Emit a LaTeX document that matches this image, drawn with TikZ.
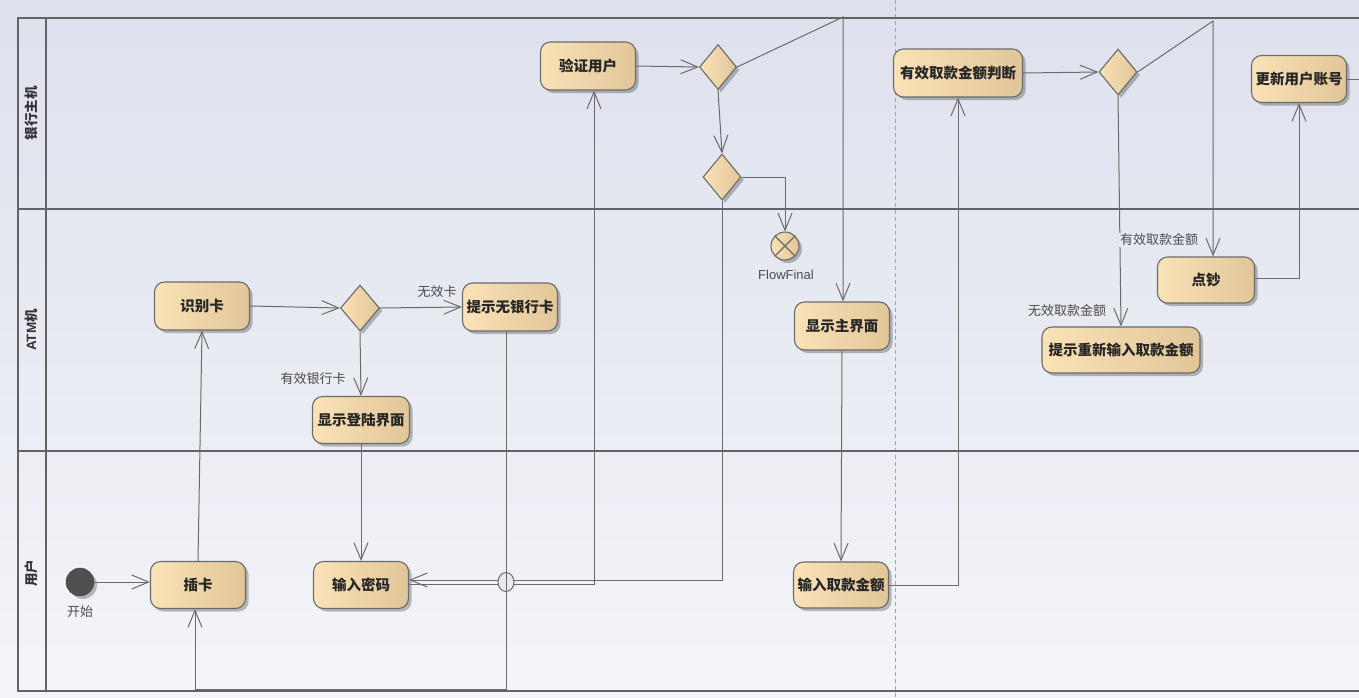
\documentclass[tikz,border=0pt]{standalone}
\usepackage{fontspec}
\setmainfont{Noto Sans CJK SC}
\newfontfamily\latf{Liberation Sans}
\usetikzlibrary{arrows.meta,shadows,shapes.geometric,calc}
\definecolor{bgtop}{HTML}{DEE1ED}
\definecolor{bgbot}{HTML}{F4F5F9}
\definecolor{bgmid}{HTML}{E8EAF3}
\definecolor{boxL}{HTML}{FAE2B8}
\definecolor{boxR}{HTML}{E1C698}
\definecolor{edgec}{HTML}{6A6A6A}
\definecolor{lanec}{HTML}{636363}
\definecolor{dashc}{HTML}{9C9CDC}
\definecolor{lblc}{HTML}{4A4A4A}
\definecolor{initc}{HTML}{4F4F4F}
\begin{document}
\begin{tikzpicture}[x=1pt,y=-1pt,
  shad/.style={drop shadow={shadow xshift=3pt,shadow yshift=-3pt,fill=black,opacity=0.25}},
  act/.style={rectangle, rounded corners=10pt, draw=edgec, line width=1.1pt,
    left color=boxL, right color=boxR, shad, text=black!85, inner sep=0pt,
    font=\bfseries\fontsize{14.5}{16}\selectfont},
  dec/.style={diamond, draw=edgec, line width=1.1pt, left color=boxL, right color=boxR,
    shad, inner sep=0pt, minimum width=38pt, minimum height=46pt},
  flow/.style={draw=edgec, line width=1pt, -{Straight Barb[length=17pt,width=14pt,line width=1pt]}},
  plain/.style={draw=edgec, line width=1pt},
  elbl/.style={text=lblc, font=\fontsize{13}{15}\selectfont, inner sep=1pt},
  lanelbl/.style={text=black!80, font=\bfseries\fontsize{13.5}{15}\selectfont, rotate=90},
  laneline/.style={draw=lanec, line width=1.6pt}
]
\useasboundingbox (0,0) rectangle (1359,697);
\shade[top color=bgtop,bottom color=bgbot] (0,0) rectangle (1359,697);

% dashed partition
\draw[dashc, line width=0.9pt, dash pattern=on 4pt off 3pt] (895,0) -- (895,697);

% swimlanes
\draw[laneline] (1359,18) -- (18,18) -- (18,691) -- (1359,691);
\draw[laneline] (46,18) -- (46,691);
\draw[laneline] (18,209) -- (1359,209);
\draw[laneline] (18,451) -- (1359,451);
\node[lanelbl] (l1) at (31,113) {银行主机};
\node[lanelbl] (l2) at (31,330) {{\latf ATM}机};
\node[lanelbl] (l3) at (31,573) {用户};

% nodes
\node[act, minimum width=95pt, minimum height=48pt] (yanzheng) at (588,66) {验证用户};
\node[dec, minimum width=37pt, minimum height=45pt] (d1) at (718,67) {};
\node[dec] (d2) at (722,177) {};
\node[circle, draw=edgec, line width=1.1pt, left color=boxL, right color=boxR, shad,
      minimum size=28pt, inner sep=0pt] (ff) at (785,246) {};
\draw[edgec, line width=1.1pt] (ff.45) -- (ff.225) (ff.135) -- (ff.315);
\node[elbl, text=black!70, font=\latf\fontsize{13}{15}\selectfont] (fflbl) at (786,275) {FlowFinal};
\node[act, minimum width=95pt, minimum height=48pt] (zhujiemian) at (842,326) {显示主界面};
\node[act, minimum width=129pt, minimum height=48pt] (panduan) at (958,73) {有效取款金额判断};
\node[dec] (d3) at (1118,72) {};
\node[act, minimum width=97pt, minimum height=46pt] (dianchao) at (1206,280) {点钞};
\node[act, minimum width=95pt, minimum height=47pt] (gengxin) at (1299,79) {更新用户账号};
\node[act, minimum width=158pt, minimum height=46pt] (chongxin) at (1121,350) {提示重新输入取款金额};
\node[act, minimum width=95pt, minimum height=46pt] (qukuan) at (841,585) {输入取款金额};

\node[circle, fill=initc, draw=initc!80!black, shad, minimum size=28pt, inner sep=0pt] (start) at (80,582) {};
\node[elbl, text=black!70] (startlbl) at (80,612) {开始};
\node[act, minimum width=95pt, minimum height=47pt] (chaka) at (198,585) {插卡};
\node[act, minimum width=95pt, minimum height=48pt] (shibie) at (202,306) {识别卡};
\node[dec, minimum width=39pt, minimum height=46pt] (dA) at (360,308) {};
\node[act, minimum width=95pt, minimum height=48pt] (tishiwu) at (510,307) {提示无银行卡};
\node[act, minimum width=97pt, minimum height=47pt] (denglu) at (361,420) {显示登陆界面};
\node[act, minimum width=95pt, minimum height=47pt] (mima) at (361,585) {输入密码};

% corner coordinates
\coordinate (k1) at (843,17);
\coordinate (k2) at (1213,21);
\coordinate (kend) at (1359,79);

% edges
\draw[flow] (start.east) -- (start.east -| chaka.west);
\draw[flow] (chaka.north) -- (shibie.south);
\draw[flow] (shibie.east) -- (dA.west);
\draw[flow] (dA.east) -- (tishiwu.west);
\node[elbl] (lwx) at (437,292) {无效卡};
\draw[flow] (dA.south) -- (denglu.north);
\node[elbl] (lyx) at (313,379) {有效银行卡};
\draw[flow] (denglu.south) -- (mima.north);

\draw[flow] ($(mima.east)+(0,-1)$) -| ($(yanzheng.south)+(6,0)$);
\draw[flow] (d2.south) |- ($(mima.east)+(0,-5)$);
% line jump
\draw[edgec, line width=1pt, fill=bgmid] (506,582) ellipse [x radius=8pt, y radius=9.5pt];
\draw[flow] ($(tishiwu.south)+(-4,0)$) -- (506,689) -| ($(chaka.south)+(-3,0)$);

\draw[flow] (yanzheng.east) -- (d1.west);
\draw[flow] (d1.south) -- (d2.north);
\draw[flow] (d1.east) -- (k1) -- (k1 |- zhujiemian.north);
\draw[flow] (d2.east) -| (ff.north);
\draw[flow] (zhujiemian.south) -- (qukuan.north);
\draw[flow] (qukuan.east) -| (panduan.south);
\draw[flow] (panduan.east) -- (d3.west);
\draw[flow] (d3.east) -- (k2) -- (k2 |- dianchao.north);
\draw[flow] (d3.south) -- (chongxin.north);
\node[elbl, fill=bgmid] (lyq) at (1159,240) {有效取款金额};
\node[elbl] (lwq) at (1067,311) {无效取款金额};
\draw[flow] ($(dianchao.east)+(0,-2)$) -| (gengxin.south);
\draw[plain] (gengxin.east) -- (kend);
\end{tikzpicture}
\end{document}
